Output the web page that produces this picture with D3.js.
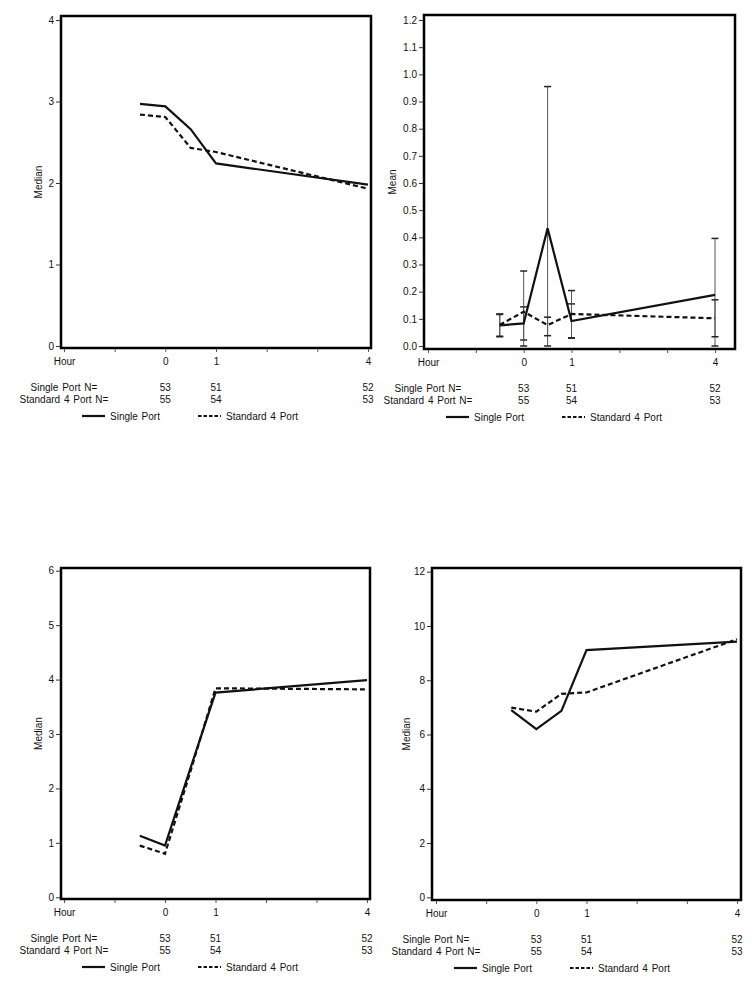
<!DOCTYPE html>
<html>
<head>
<meta charset="utf-8">
<script src="https://cdn.jsdelivr.net/npm/d3@7"></script>
<style>
  html, body { margin: 0; padding: 0; background: #fff; }
  svg { display: block; }
  text { font-family: "Liberation Sans", Arial, sans-serif; font-size: 10px; fill: #111; word-spacing: 1px; }
</style>
</head>
<body>
<svg id="chart" width="754" height="988"></svg>
<script>
// ---------------- DATA ----------------
const hours = [-0.5, 0, 0.5, 1, 4];
const xTickValues = [-2, -1, 0, 1, 2, 3, 4];
const xTickLabels = ["Hour", "", "0", "1", "", "", "4"];
const seriesNames = ["Single Port", "Standard 4 Port"];

const nHours = [0, 1, 4];
const singleN = [53, 51, 52];
const standardN = [55, 54, 53];

// Panel A (top-left): Median
const medianA_single = [2.97, 2.94, 2.66, 2.24, 1.98];
const medianA_standard = [2.84, 2.81, 2.43, 2.38, 1.93];
const ticksA = [0, 1, 2, 3, 4];

// Panel B (top-right): Mean with error bars
const meanB_single = [0.076, 0.083, 0.433, 0.092, 0.188];
const meanB_standard = [0.078, 0.126, 0.077, 0.118, 0.102];
const errB_singleLow = [0.034, 0.022, 0.0, 0.029, 0.0];
const errB_singleHigh = [0.118, 0.144, 0.955, 0.155, 0.396];
const errB_standardLow = [0.036, 0.0, 0.038, 0.030, 0.034];
const errB_standardHigh = [0.116, 0.276, 0.106, 0.204, 0.170];
const ticksB = [0, 0.1, 0.2, 0.3, 0.4, 0.5, 0.6, 0.7, 0.8, 0.9, 1.0, 1.1, 1.2];

// Panel C (bottom-left): Median
const medianC_single = [1.13, 0.95, 2.36, 3.76, 3.99];
const medianC_standard = [0.95, 0.80, 2.30, 3.84, 3.82];
const ticksC = [0, 1, 2, 3, 4, 5, 6];

// Panel D (bottom-right): Median
const medianD_single = [6.90, 6.20, 6.87, 9.11, 9.42];
const medianD_standard = [6.99, 6.84, 7.50, 7.55, 9.51];
const ticksD = [0, 2, 4, 6, 8, 10, 12];

// ---------------- LAYOUT ----------------
const panels = [
  { frame: [61, 371, 16, 348], xr: [64, 368], yr: [346, 20], yd: [0, 4], ticks: ticksA, fmt: d3.format("d"),
    title: "Median", titleX: 38, single: medianA_single, standard: medianA_standard },
  { frame: [424, 735, 15, 349], xr: [428, 715], yr: [346, 20], yd: [0, 1.2], ticks: ticksB, fmt: d3.format(".1f"),
    title: "Mean", titleX: 392, single: meanB_single, standard: meanB_standard,
    err: [[errB_singleLow, errB_singleHigh], [errB_standardLow, errB_standardHigh]] },
  { frame: [61, 370, 568, 899], xr: [64, 367], yr: [897.3, 570.7], yd: [0, 6], ticks: ticksC, fmt: d3.format("d"),
    title: "Median", titleX: 38, single: medianC_single, standard: medianC_standard },
  { frame: [432, 741, 568, 900], xr: [436, 737], yr: [897.3, 571.7], yd: [0, 12], ticks: ticksD, fmt: d3.format("d"),
    title: "Median", titleX: 406, single: medianD_single, standard: medianD_standard }
];

const svg = d3.select("#chart");
const dash = "5,3";

panels.forEach(p => {
  const [x0, x1, y0, y1] = p.frame;
  const x = d3.scaleLinear().domain([-2, 4]).range(p.xr);
  const y = d3.scaleLinear().domain(p.yd).range(p.yr);
  const g = svg.append("g");

  // Error bars (drawn under lines)
  if (p.err) {
    p.err.forEach(([lo, hi]) => {
      hours.forEach((h, i) => {
        const cx = x(h);
        g.append("line").attr("x1", cx).attr("x2", cx).attr("y1", y(lo[i])).attr("y2", y(hi[i]))
          .attr("stroke", "#555").attr("stroke-width", 1);
        [lo[i], hi[i]].forEach(v => {
          g.append("line").attr("x1", cx - 3.5).attr("x2", cx + 3.5).attr("y1", y(v)).attr("y2", y(v))
            .attr("stroke", "#222").attr("stroke-width", 1.5);
        });
      });
    });
  }

  const line = d3.line().x((d, i) => x(hours[i])).y(d => y(d));
  g.append("path").datum(p.standard).attr("d", line).attr("fill", "none")
    .attr("stroke", "#111").attr("stroke-width", 2.2).attr("stroke-dasharray", dash);
  g.append("path").datum(p.single).attr("d", line).attr("fill", "none")
    .attr("stroke", "#111").attr("stroke-width", 2.2);

  // Frame
  g.append("rect").attr("x", x0).attr("y", y0).attr("width", x1 - x0).attr("height", y1 - y0)
    .attr("fill", "none").attr("stroke", "#000").attr("stroke-width", 2.5);

  // Y axis
  const ya = g.append("g").attr("transform", `translate(${x0 - 1},0)`)
    .call(d3.axisLeft(y).tickValues(p.ticks).tickFormat(p.fmt).tickSize(4).tickPadding(2));
  ya.select(".domain").remove();
  ya.selectAll("text").style("font-size", "10px").attr("fill", "#111");
  ya.selectAll("line").attr("stroke", "#333");

  // X axis
  const xa = g.append("g").attr("transform", `translate(0,${y1 + 1})`)
    .call(d3.axisBottom(x).tickValues(xTickValues)
      .tickFormat((d, i) => xTickLabels[i]).tickSize(3).tickPadding(6));
  xa.select(".domain").remove();
  xa.selectAll("text").style("font-size", "10px").attr("fill", "#111");
  xa.selectAll("line").attr("stroke", "#555");

  // Y title
  g.append("text").attr("transform", `translate(${p.titleX},${(y0 + y1) / 2}) rotate(-90)`)
    .attr("text-anchor", "middle").attr("dy", "0.35em").text(p.title);

  // N rows
  const labX = x(-2);
  [[`${seriesNames[0]} N=`, singleN, 39], [`${seriesNames[1]} N=`, standardN, 51]].forEach(([lab, vals, dy]) => {
    g.append("text").attr("x", labX).attr("y", y1 + dy).attr("dy", "0.35em")
      .attr("text-anchor", "middle").text(lab);
    nHours.forEach((h, i) => {
      g.append("text").attr("x", x(h)).attr("y", y1 + dy).attr("dy", "0.35em")
        .attr("text-anchor", "middle").text(vals[i]);
    });
  });

  // Legend
  const ly = y1 + 68;
  const lx = labX + 18;
  g.append("line").attr("x1", lx).attr("x2", lx + 23).attr("y1", ly).attr("y2", ly)
    .attr("stroke", "#111").attr("stroke-width", 2.2);
  g.append("text").attr("x", lx + 28).attr("y", ly).attr("dy", "0.35em").text(seriesNames[0]);
  const lx2 = labX + 134;
  g.append("line").attr("x1", lx2).attr("x2", lx2 + 23).attr("y1", ly).attr("y2", ly)
    .attr("stroke", "#111").attr("stroke-width", 2.2).attr("stroke-dasharray", "3.5,2");
  g.append("text").attr("x", lx2 + 28).attr("y", ly).attr("dy", "0.35em").text(seriesNames[1]);
});
</script>
</body>
</html>
